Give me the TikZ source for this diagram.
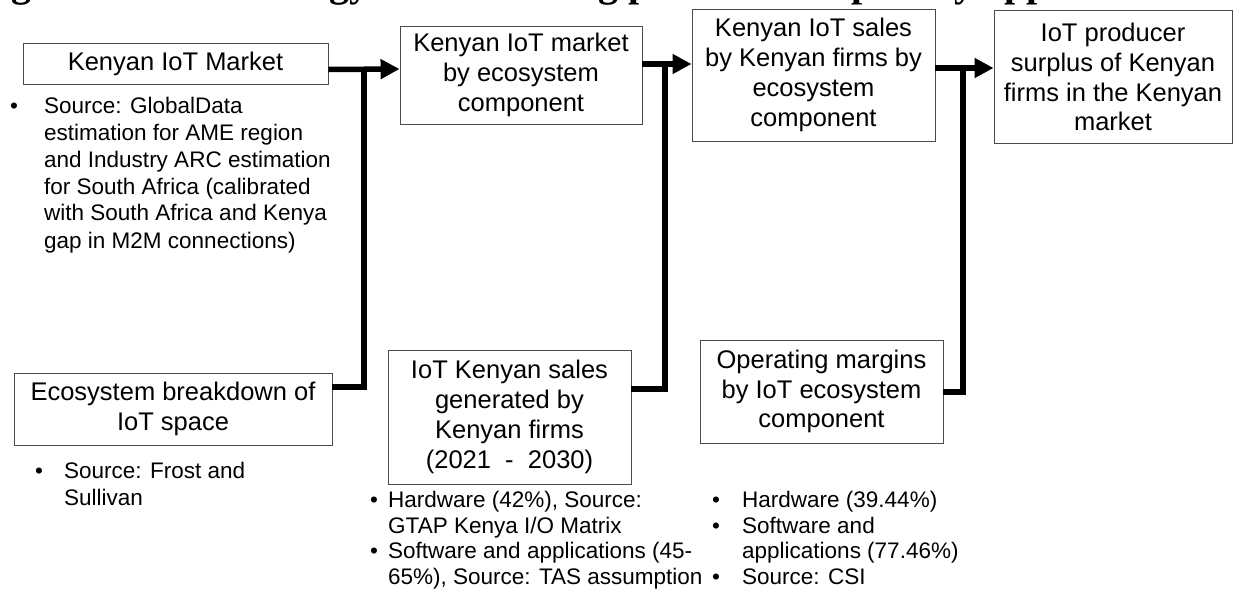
\documentclass[tikz,border=0pt]{standalone}
\usepackage{fontspec}
\setmainfont{Liberation Sans}
\newfontfamily\titlefont{Liberation Serif}
\usetikzlibrary{arrows.meta,calc}
\begin{document}
\begin{tikzpicture}[x=1pt,y=-1pt,
  box/.style={draw=black!70, line width=0.9pt, inner sep=0pt, align=center,
    font=\fontsize{25.5}{29.8}\selectfont},
  lst/.style={inner sep=0pt, anchor=base west},
  conn/.style={line width=5.5pt, line join=miter},
  arr/.style={conn, -{Triangle[length=19pt,width=19pt]}}]
\useasboundingbox (0,0) rectangle (1235,597);
% clipped title (only the descenders show)
\begin{scope}
\clip (0,0) rectangle (1235,597);
\node[inner sep=0pt, outer sep=0pt, anchor=south west, font=\titlefont\bfseries\fontsize{40}{42}\selectfont] (title) at (-24,5)
  {Figure 2: Methodology for estimating producer surplus by approach};
\end{scope}
% boxes
\node[box, minimum width=305pt, minimum height=41pt] (b1) at (175.5,63.5) {Kenyan IoT Market};
\node[box, minimum width=242pt, minimum height=98pt] (b2) at (521,75) {Kenyan IoT market\\by ecosystem\\component};
\node[box, minimum width=243pt, minimum height=132pt] (b3) at (813.5,75) {Kenyan IoT sales\\by Kenyan firms by\\ecosystem\\component};
\node[box, minimum width=238pt, minimum height=133pt] (b4) at (1113,77) {IoT producer\\surplus of Kenyan\\firms in the Kenyan\\market};
\node[box, minimum width=318pt, minimum height=72pt] (b5) at (173,409) {Ecosystem breakdown of\\IoT space};
\node[box, minimum width=243pt, minimum height=134pt] (b6) at (509.5,417) {IoT Kenyan sales\\generated by\\Kenyan firms\\(2021\ \ -\ \ 2030)};
\node[box, minimum width=243pt, minimum height=103pt] (b7) at (821.5,391.5) {Operating margins\\by IoT ecosystem\\component};
% lists
\node[lst, font=\fontsize{22.5}{27}\selectfont] (l1) at (10,113) {\begin{tabular}[t]{@{}p{34pt}@{}l@{}}
•&Source: GlobalData\\
&estimation for AME region\\
&and Industry ARC estimation\\
&for South Africa (calibrated\\
&with South Africa and Kenya\\
&gap in M2M connections)
\end{tabular}};
\node[lst, font=\fontsize{22.5}{27}\selectfont] (l5) at (35,478) {\begin{tabular}[t]{@{}p{29pt}@{}l@{}}
•&Source: Frost and\\
&Sullivan
\end{tabular}};
\node[lst, font=\fontsize{22.5}{25.6}\selectfont] (l6) at (370,507.5) {\begin{tabular}[t]{@{}p{18pt}@{}l@{}}
•&Hardware (42\%), Source:\\
&GTAP Kenya I/O Matrix\\
•&Software and applications (45-\\
&65\%), Source: TAS assumption
\end{tabular}};
\node[lst, font=\fontsize{22.5}{25.6}\selectfont] (l7) at (712,507.5) {\begin{tabular}[t]{@{}p{30pt}@{}l@{}}
•&Hardware (39.44\%)\\
•&Software and\\
&applications (77.46\%)\\
•&Source: CSI
\end{tabular}};
% junction coordinates
\coordinate (j1) at (364,70);
\coordinate (j2) at (665,66);
\coordinate (j3) at (963,70);
% connectors
\draw[arr] ($(b1.east)+(0,6)$) -- ($(b2.west)+(0,-6)$);
\draw[conn] ($(b5.east)+(0,-22)$) -| (j1);
\draw[arr] ($(b2.east)+(0,-11)$) -- ($(b3.west)+(0,-11)$);
\draw[conn] ($(b6.east)+(0,-28)$) -| (j2);
\draw[arr] ($(b3.east)+(0,-7)$) -- ($(b4.west)+(0,-9)$);
\draw[conn] ($(b7.east)+(0,0.5)$) -| (j3);
\end{tikzpicture}
\end{document}
